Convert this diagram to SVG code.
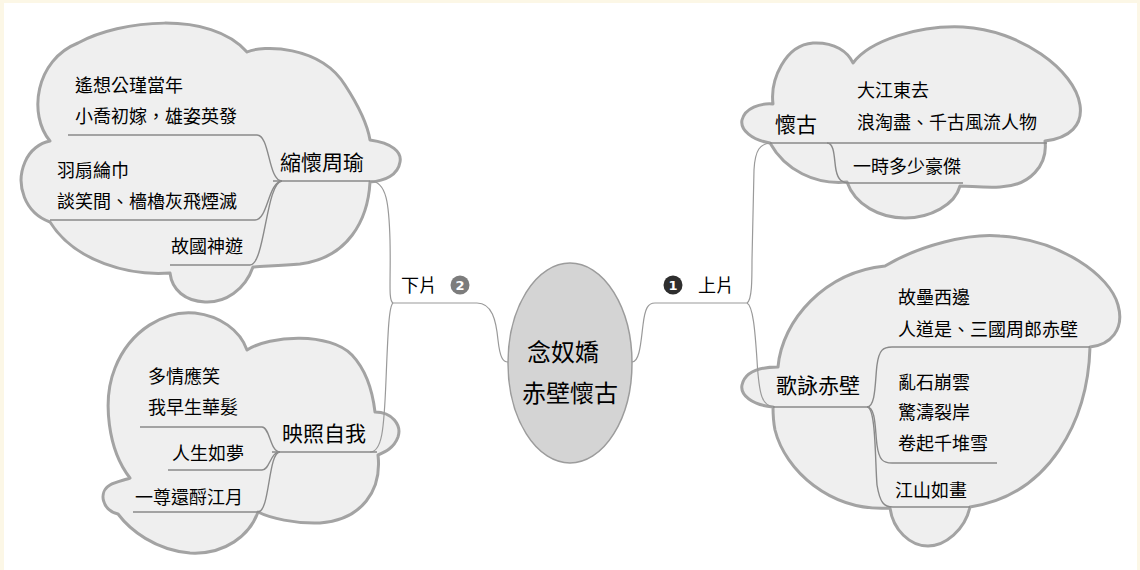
<svg xmlns="http://www.w3.org/2000/svg" width="1140" height="570" viewBox="0 0 1140 570">
<style>
.cloud{fill:#efefef;stroke:#a3a3a3;stroke-width:3;stroke-linejoin:round}
.t{font-family:"Noto Sans CJK TC","Noto Sans CJK SC",sans-serif;font-size:18px;fill:#000}
.m{font-size:21px}
.c{font-size:24px}
.ln{fill:none;stroke:#8a8a8a;stroke-width:1.4}
.cn{fill:none;stroke:#9a9a9a;stroke-width:1.2}
.bt{font-family:"DejaVu Sans",sans-serif;font-size:13px;font-weight:bold;fill:#fff}
</style>
<rect x="0" y="0" width="1140" height="570" fill="#fcf7e6"/>
<rect x="4" y="3" width="1133" height="567" fill="#ffffff"/>

<g id="node-zhouyu">
<path class="cloud" d="M247,52 C262,45 320,45 345,85 C360,108 368,128 370,140 C392,143 402,152 400,162 C398,175 385,181 370,182 C368,220 348,258 300,264 C280,266 262,266 253,267 C245,290 225,303 205,302 C185,301 172,290 170,273 C130,276 75,262 50,222 C25,213 15,185 25,162 C30,150 40,143 50,141 C28,115 35,60 78,43 C120,20 210,10 247,52 Z"/>
</g>
<g id="node-ziwo">
<path class="cloud" d="M247,350 C270,335 330,332 352,355 C368,372 373,395 375,412 C392,412 402,425 398,437 C394,448 385,452 378,455 C382,490 362,520 320,523 C295,524 270,518 258,512 C250,535 225,555 190,553 C155,550 130,530 118,514 C102,510 98,492 110,485 C115,482 125,480 130,478 C108,450 102,400 115,368 C130,330 165,310 195,313 C220,316 240,330 247,350 Z"/>
</g>
<g id="node-huaigu">
<path class="cloud" d="M770,143 C752,140 740,130 742,120 C745,108 760,103 773,104 C770,80 785,45 813,43 C835,42 848,52 853,63 C870,40 920,25 963,27 C1020,30 1075,70 1080,105 C1083,125 1070,138 1045,141 C1048,165 1030,186 1000,187 C985,188 970,186 960,186 C955,205 930,218 905,218 C880,218 855,205 847,182 C815,185 785,170 770,143 Z"/>
</g>
<g id="node-chibi">
<path class="cloud" d="M773,407 C752,405 740,395 742,385 C745,372 760,367 778,367 C782,320 825,272 885,266 C920,245 970,233 1000,236 C1060,240 1110,275 1118,305 C1125,330 1110,345 1090,347 C1088,420 1050,495 970,507 C965,530 945,546 928,546 C910,546 893,530 890,508 C830,512 785,470 775,430 C773,420 773,412 773,407 Z"/>
</g>
<g id="node-center">
<ellipse cx="570" cy="363" rx="62" ry="100" fill="#d4d4d4" stroke="#9c9c9c" stroke-width="1.5"/>
</g>

<g id="connectors">
<path class="cn" d="M508,362 C503,362 500,358 498,340 C496,320 492,303 477,303 H393"/>
<path class="cn" d="M393,303 C388,300 391,280 390,240 C389,205 387,181 370,181"/>
<path class="cn" d="M393,303 C389,306 388,330 386,380 C384,430 382,452 370,452"/>
<path class="cn" d="M632,362 C640,362 641,340 643,325 C645,308 648,303 655,303 H747"/>
<path class="cn" d="M747,303 C752,300 752,280 752,260 L754,170 C755,150 760,143 772,143"/>
<path class="cn" d="M747,303 C753,306 755,330 757,360 C759,395 762,407 775,407"/>
<path class="ln" d="M273,181 H370"/>
<path class="ln" d="M68,135 H257 C270,135 268,181 282,181"/>
<path class="ln" d="M50,220 H255 C268,220 268,182 282,181"/>
<path class="ln" d="M170,265 H250 C265,265 266,182 282,181"/>
<path class="ln" d="M272,452 H377"/>
<path class="ln" d="M140,427 H262 C270,427 270,452 280,452"/>
<path class="ln" d="M168,470 H262 C270,470 270,452 280,452"/>
<path class="ln" d="M133,512 H258 C270,512 268,452 280,452"/>
<path class="ln" d="M770,143 H1047"/>
<path class="ln" d="M827,143 C835,143 834,160 836,170 C838,180 842,183 850,183 H963"/>
<path class="ln" d="M773,407 H869"/>
<path class="ln" d="M867,407 C876,407 875,380 877,365 C879,350 883,347 892,347 H1090"/>
<path class="ln" d="M867,407 C876,407 875,430 877,445 C879,460 883,463 892,463 H997"/>
<path class="ln" d="M867,407 C876,407 875,460 877,485 C880,503 884,507 893,507 H970"/>
</g>

<g id="labels">
<text class="t" x="401" y="292">下片</text>
<circle cx="460" cy="285" r="9.5" fill="#7c7c7c"/>
<text class="bt" x="460" y="289.8" text-anchor="middle">2</text>
<circle cx="673" cy="285" r="9.5" fill="#2e2e2e"/>
<text class="bt" x="673" y="289.8" text-anchor="middle">1</text>
<text class="t" x="698" y="292">上片</text>
</g>

<g id="text-center">
<text class="t c" x="563" y="361" text-anchor="middle">念奴嬌</text>
<text class="t c" x="570" y="402" text-anchor="middle">赤壁懷古</text>
</g>
<g id="text-zhouyu">
<text class="t m" x="280" y="170">縮懷周瑜</text>
<text class="t" x="75" y="92">遙想公瑾當年</text>
<text class="t" x="75" y="123">小喬初嫁，雄姿英發</text>
<text class="t" x="57" y="177">羽扇綸巾</text>
<text class="t" x="57" y="208">談笑間、檣櫓灰飛煙滅</text>
<text class="t" x="171" y="253">故國神遊</text>
</g>
<g id="text-ziwo">
<text class="t m" x="282" y="441">映照自我</text>
<text class="t" x="148" y="383">多情應笑</text>
<text class="t" x="148" y="414">我早生華髮</text>
<text class="t" x="172" y="460">人生如夢</text>
<text class="t" x="135" y="504">一尊還酹江月</text>
</g>
<g id="text-huaigu">
<text class="t m" x="775" y="132">懷古</text>
<text class="t" x="857" y="97">大江東去</text>
<text class="t" x="857" y="129">浪淘盡、千古風流人物</text>
<text class="t" x="853" y="173">一時多少豪傑</text>
</g>
<g id="text-chibi">
<text class="t m" x="776" y="393">歌詠赤壁</text>
<text class="t" x="898" y="304">故壘西邊</text>
<text class="t" x="898" y="336">人道是、三國周郎赤壁</text>
<text class="t" x="898" y="389">亂石崩雲</text>
<text class="t" x="898" y="419">驚濤裂岸</text>
<text class="t" x="898" y="450">卷起千堆雪</text>
<text class="t" x="895" y="497">江山如畫</text>
</g>
</svg>
